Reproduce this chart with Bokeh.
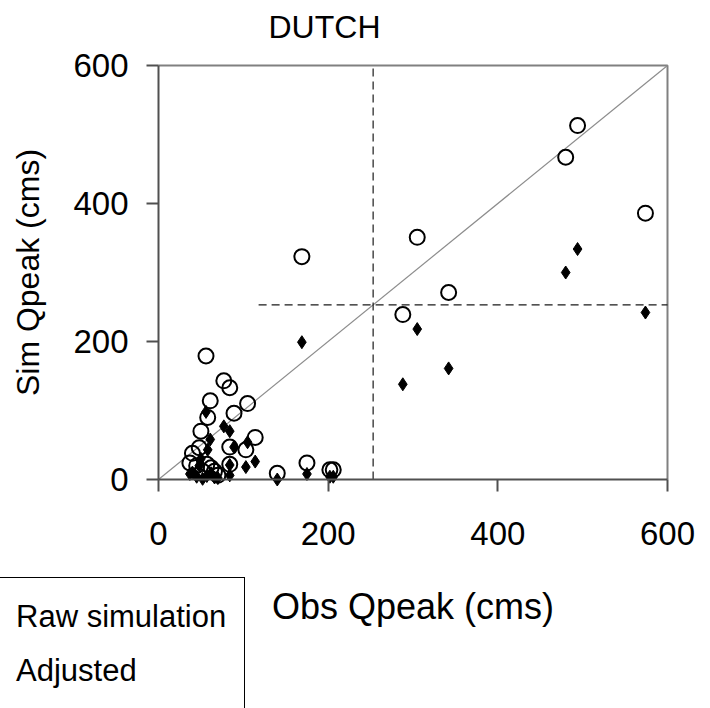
from bokeh.plotting import figure
from bokeh.models import ColumnDataSource, Legend, LegendItem, Range1d, FixedTicker
from bokeh.embed import file_html
from bokeh.resources import INLINE

# ---- data ----
obs = [169, 288, 305, 342, 480, 494, 574,
       56, 77, 84, 61, 105, 58, 89, 50, 114, 84, 103, 48, 40, 37, 57, 84, 66,
       140, 175, 202, 206, 45, 52, 62, 70]
raw = [323, 239, 351, 271, 467, 513, 386,
       179, 143, 133, 114, 110, 90, 96, 70, 61, 47, 43, 46, 38, 24, 22, 22, 12,
       9, 24, 14, 14, 20, 12, 17, 6]
adj = [199, 138, 218, 161, 300, 334, 242,
       98, 77, 70, 58, 54, 43, 47, 30, 26, 21, 18, 20, 10, 8, 5, 6, 3,
       0, 8, 4, 4, 4, 1, 9, 2]
threshold = 253
hline_x = [118, 600]
vline_y = [0, 600]
diag = [0, 600]
box_x = [0, 600, 600]
box_y = [600, 600, 0]
ticks = [0, 200, 400, 600]
axis_min, axis_max = 0, 600

FONT = "Liberation Sans"

# Frame spans the whole canvas below the title; axes are pinned at 0 so the
# legend (which sits below/left of the axes) stays inside the frame.
p = figure(frame_width=710, frame_height=663, output_backend="svg",
           toolbar_location=None,
           x_range=Range1d(-186.25, 650.69), y_range=Range1d(-331.88, 628.99),
           min_border_left=0, min_border_right=0, min_border_top=45,
           min_border_bottom=0, title="DUTCH")
p.title.text_font = FONT
p.title.text_font_size = "32px"
p.title.text_font_style = "normal"
p.title.text_color = "black"
p.title.align = "left"
p.title.offset = 268
p.title.standoff = 2

p.xgrid.visible = False
p.ygrid.visible = False
p.outline_line_color = None

for ax in (p.xaxis[0], p.yaxis[0]):
    ax.fixed_location = 0
    ax.bounds = (axis_min, axis_max)
    ax.ticker = FixedTicker(ticks=ticks)
    ax.minor_tick_line_color = None
    ax.major_tick_in = 0
    ax.major_tick_out = 12
    ax.axis_line_color = "#505050"
    ax.axis_line_width = 2
    ax.major_tick_line_color = "#505050"
    ax.major_tick_line_width = 2
    ax.major_label_text_font = FONT
    ax.major_label_text_font_size = "33px"
    ax.major_label_text_color = "black"
    ax.axis_label_text_font = FONT
    ax.axis_label_text_font_style = "normal"
    ax.axis_label_text_color = "black"

p.xaxis.axis_label = "Obs Qpeak (cms)"
p.yaxis.axis_label = "Sim Qpeak (cms)"
p.xaxis.axis_label_text_font_size = "36px"
p.yaxis.axis_label_text_font_size = "32px"
p.xaxis.major_label_standoff = 30
p.xaxis.axis_label_standoff = 38
p.yaxis.major_label_standoff = 18
p.yaxis.axis_label_standoff = 24

# plot box (top and right edges)
p.line(box_x, box_y, line_color="#808080", line_width=2)

# reference lines
p.line(diag, diag, line_color="#8c8c8c", line_width=1.2)
p.line([threshold, threshold], vline_y, line_color="#1a1a1a", line_width=1.2, line_dash="8 5")
p.line(hline_x, [threshold, threshold], line_color="#1a1a1a", line_width=1.2, line_dash="8 5")

src = ColumnDataSource(dict(obs=obs, raw=raw, adj=adj))
r_adj = p.scatter("obs", "adj", source=src, marker="diamond", size=13,
                  fill_color="black", line_color="black")
r_raw = p.scatter("obs", "raw", source=src, marker="circle", size=15,
                  fill_color=None, line_color="black", line_width=2)

legend = Legend(items=[LegendItem(label="Raw simulation", renderers=[r_raw]),
                       LegendItem(label="Adjusted", renderers=[r_adj])],
                location=(-43, -3), orientation="vertical")
legend.label_text_font = FONT
legend.label_text_font_size = "31px"
legend.label_text_color = "black"
legend.label_height = 42
legend.glyph_height = 42
legend.glyph_width = 20
legend.label_standoff = 20
legend.spacing = 12
legend.padding = 18
legend.margin = 0
legend.border_line_color = "black"
legend.border_line_alpha = 1
legend.border_line_width = 1.5
legend.background_fill_color = "white"
legend.background_fill_alpha = 1
p.add_layout(legend, "center")

open("out.html", "w").write(file_html(p, INLINE))
